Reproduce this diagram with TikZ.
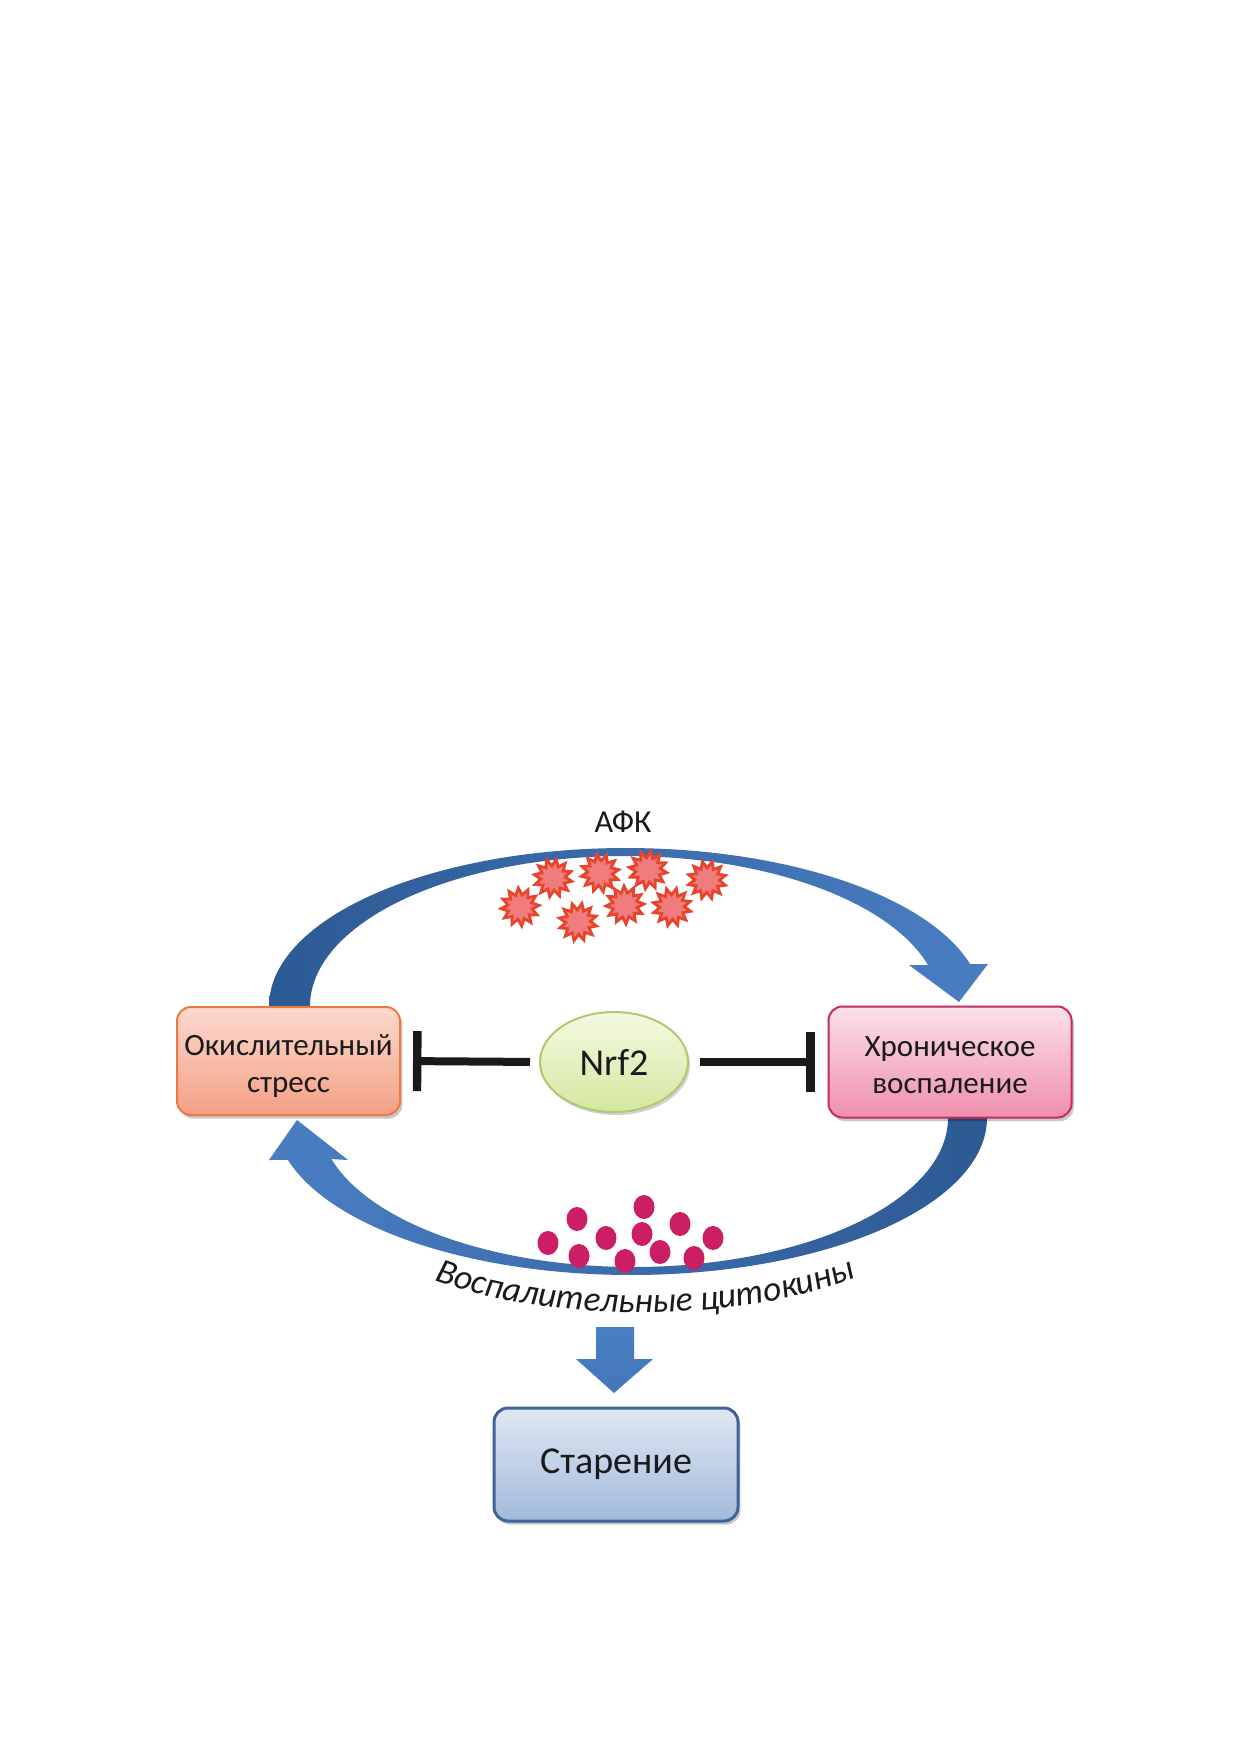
\documentclass[tikz,border=0pt]{standalone}
\usepackage{fontspec}
\setmainfont{Carlito}
\usetikzlibrary{shapes.geometric,arrows.meta,decorations.text,shadows}
\definecolor{arrowdark}{HTML}{2C5A93}
\definecolor{arrowlight}{HTML}{4A7EC3}
\definecolor{oxtop}{HTML}{FCD9CF}
\definecolor{oxbot}{HTML}{F3A085}
\definecolor{oxline}{HTML}{EC7A3C}
\definecolor{hrtop}{HTML}{FBE1E9}
\definecolor{hrbot}{HTML}{EF8FAE}
\definecolor{hrline}{HTML}{C72A5E}
\definecolor{nrtop}{HTML}{F4F9E2}
\definecolor{nrbot}{HTML}{D5E7A0}
\definecolor{nrline}{HTML}{AEC96E}
\definecolor{agtop}{HTML}{E0E7F2}
\definecolor{agbot}{HTML}{A2BADB}
\definecolor{agline}{HTML}{3F6499}
\definecolor{starfill}{HTML}{F07C7E}
\definecolor{starline}{HTML}{E8432B}
\definecolor{dotcol}{HTML}{CC1E64}
\definecolor{txt}{HTML}{1A1A1A}
\newcommand{\twolines}[2]{\begin{tabular}{@{}c@{}}#1\\#2\end{tabular}}
\begin{document}
\begin{tikzpicture}[x=0.5pt,y=-0.5pt,
  boxstyle/.style={rounded corners=7pt, line width=1pt, text=txt, align=center,
    font=\fontsize{15.5}{18.5}\selectfont, inner sep=0pt,
    drop shadow={shadow xshift=1.2pt, shadow yshift=-1.8pt, opacity=.22, fill=black}},
  twoline/.style={text height=24pt, text depth=11.2pt},
  inhib/.style={line width=4pt, draw=txt, -{Bar[width=30pt, line width=4.2pt]}},
  explosion/.style={star, star points=12, star point ratio=1.55, minimum size=19pt,
    inner sep=0pt, fill=starfill, draw=starline, line width=1.4pt},
  cytodot/.style={ellipse, minimum width=10.5pt, minimum height=12pt, inner sep=0pt, fill=dotcol}
]
\useasboundingbox (0,0) rectangle (1240,1754);
\fill[white] (0,0) rectangle (1240,1754);

% top curved arrow (oxidative stress -> inflammation)
\shade[left color=arrowdark, right color=arrowlight]
  plot[domain=180:344.6, samples=90, variable=\t] ({626+357*cos(\t)},{1006+158*sin(\t)})
  -- (988,964) -- (959,1002) -- (909,965)
  -- plot[domain=344.2:180, samples=90, variable=\t] ({625+315*cos(\t)},{1006+150*sin(\t)})
  -- cycle;

% bottom curved arrow (inflammation -> oxidative stress)
\shade[left color=arrowlight, right color=arrowdark]
  plot[domain=0:164.5, samples=90, variable=\t] ({631+356*cos(\t)},{1118+157*sin(\t)})
  -- (269,1160) -- (297,1120) -- (348,1160)
  -- plot[domain=164:0, samples=90, variable=\t] ({633.6+314.4*cos(\t)},{1118+149*sin(\t)})
  -- cycle;

% boxes
\node[boxstyle, twoline, draw=oxline, top color=oxtop, bottom color=oxbot,
  minimum width=111.5pt, minimum height=54pt] (ox) at (288.5,1061) {\twolines{Окислительный}{стресс}};
\node[boxstyle, twoline, draw=hrline, top color=hrtop, bottom color=hrbot,
  minimum width=121.5pt, minimum height=55.5pt] (hr) at (950,1062) {\twolines{Хроническое}{воспаление}};
\node[boxstyle, draw=agline, line width=1.5pt, top color=agtop, bottom color=agbot,
  minimum width=122pt, minimum height=56.5pt, font=\fontsize{19}{22}\selectfont] (ag) at (616,1464.5) {Старение};

% Nrf2
\node[ellipse, draw=nrline, line width=1pt, top color=nrtop, bottom color=nrbot,
  minimum width=74pt, minimum height=50pt, inner sep=0pt, text=txt,
  font=\fontsize{19}{22}\selectfont,
  drop shadow={shadow xshift=1pt, shadow yshift=-1.5pt, opacity=.18, fill=black}] (nrf) at (614,1062) {Nrf2};

% inhibition connectors
\draw[inhib, shorten <=4.5pt, shorten >=6pt] (nrf.west) -- (ox.east);
\draw[inhib, shorten <=5.5pt, shorten >=6.5pt] (nrf.east) -- (hr.west);

% label AFK
\node[text=txt, font=\fontsize{16}{19}\selectfont] (afk) at (623,822) {АФК};

% ROS explosions
\foreach \n/\x/\y/\r in {1/520/907/5, 2/553/878/20, 3/600/873/10, 4/648/870/-8,
  5/707/880/14, 6/578/922/-12, 7/625/905/3, 8/672/907/17}
  \node[explosion, rotate=\r] (s\n) at (\x,\y) {};

% cytokine dots
\foreach \n/\x/\y in {1/577/1219, 2/644/1207, 3/548/1243, 4/606/1238, 5/642/1234,
  6/680/1224, 7/713/1238, 8/579/1256, 9/625/1261, 10/660/1252, 11/694/1258}
  \node[cytodot] (d\n) at (\x,\y) {};

% curved label
\path[decorate, decoration={text along path, text align=center,
   text={|\itshape\fontsize{17.6}{20}\selectfont\color{txt}|Воспалительные цитокины}}]
  (395,1262) .. controls (515,1330) and (775,1330) .. (895,1258);

% down block arrow to ageing
\shade[top color=arrowlight, bottom color=arrowlight!80!arrowdark]
  (596,1327) -- (634,1327) -- (634,1359) -- (653,1359) -- (614,1393)
  -- (576,1359) -- (596,1359) -- cycle;
\end{tikzpicture}
\end{document}
